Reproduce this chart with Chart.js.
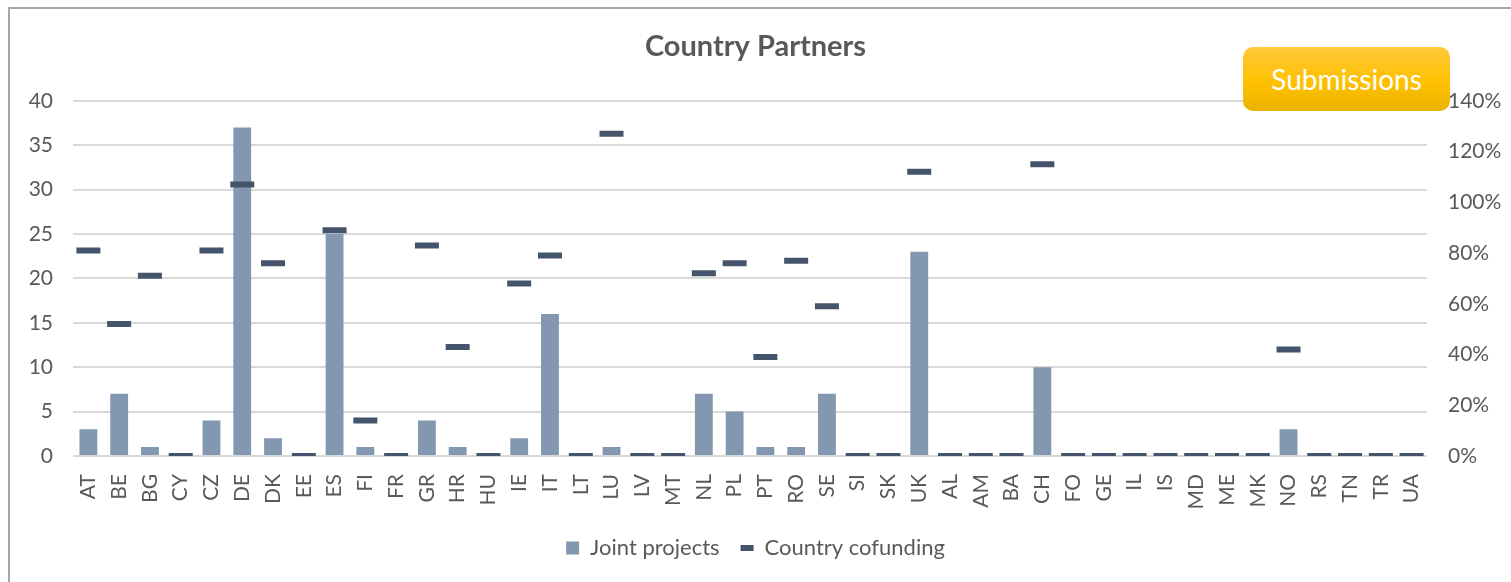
<!DOCTYPE html>
<html lang="en">
<head>
  <meta charset="UTF-8">
  <title>Country Partners</title>
  <script src="https://cdn.jsdelivr.net/npm/chart.js"></script>
  <style>
    body {
      margin: 0;
      background: #fff;
      font-family: Lato, sans-serif;
      overflow: hidden;
    }

    /* grey chart frame, only left and top edges are visible in the shot */
    .frame {
      position: absolute;
      left: 8px;
      top: 7px;
      width: 1600px;
      height: 700px;
      border: 2px solid #a6a6a6;
    }

    .chart-box {
      position: absolute;
      left: 0;
      top: 0;
      width: 1511px;
      height: 582px;
    }

    .badge {
      position: absolute;
      left: 1243px;
      top: 47px;
      width: 207px;
      height: 64px;
      border-radius: 10px;
      background: linear-gradient(#ffc93a, #ffc000 55%, #e9b300);
      color: #fff;
      font-size: 28px;
      line-height: 64px;
      text-align: center;
    }
  </style>
</head>
<body>
<div class="frame"></div>
<div class="chart-box">
  <canvas id="chart"></canvas>
</div>
<div class="badge">Submissions</div>

<script>
  // countries on the x axis
  const countries = [
    "AT", "BE", "BG", "CY", "CZ", "DE", "DK", "EE", "ES", "FI",
    "FR", "GR", "HR", "HU", "IE", "IT", "LT", "LU", "LV", "MT",
    "NL", "PL", "PT", "RO", "SE", "SI", "SK", "UK", "AL", "AM",
    "BA", "CH", "FO", "GE", "IL", "IS", "MD", "ME", "MK", "NO",
    "RS", "TN", "TR", "UA"
  ];

  // number of joint projects (left axis)
  const jointProjects = [
    3, 7, 1, 0, 4, 37, 2, 0, 25, 1,
    0, 4, 1, 0, 2, 16, 0, 1, 0, 0,
    7, 5, 1, 1, 7, 0, 0, 23, 0, 0,
    0, 10, 0, 0, 0, 0, 0, 0, 0, 3,
    0, 0, 0, 0
  ];

  // country cofunding in percent (right axis)
  const cofunding = [
    81, 52, 71, 0, 81, 107, 76, 0, 89, 14,
    0, 83, 43, 0, 68, 79, 0, 127, 0, 0,
    72, 76, 39, 77, 59, 0, 0, 112, 0, 0,
    0, 115, 0, 0, 0, 0, 0, 0, 0, 42,
    0, 0, 0, 0
  ];

  const leftTicks = [0, 40, 5];    // min, max, step
  const rightTicks = [0, 140, 20];

  const grey = "#595959";
  Chart.defaults.font.family = "Lato, sans-serif";
  Chart.defaults.color = grey;

  const ctx = document.getElementById("chart").getContext("2d");
  new Chart(ctx, {
    data: {
      labels: countries,
      datasets: [
        {
          type: "bar",
          label: "Joint projects",
          data: jointProjects,
          backgroundColor: "#8497b0",
          yAxisID: "y",
          categoryPercentage: 1,
          barPercentage: 0.58,
          pointStyle: "rect",
          order: 2
        },
        {
          type: "line",
          label: "Country cofunding",
          data: cofunding,
          yAxisID: "y1",
          showLine: false,
          pointStyle: "line",
          pointRadius: 12,
          pointHoverRadius: 12,
          pointBorderWidth: 6,
          borderWidth: 6,
          borderColor: "#44546a",
          backgroundColor: "#44546a",
          order: 1
        }
      ]
    },
    options: {
      responsive: true,
      maintainAspectRatio: false,
      animation: false,
      events: [],
      layout: { padding: { top: 0, bottom: 13, left: 0, right: 0 } },
      plugins: {
        title: {
          display: true,
          text: "Country Partners",
          color: grey,
          font: { size: 29, weight: "bold" },
          padding: { top: 29, bottom: 37 }
        },
        legend: {
          position: "bottom",
          labels: {
            usePointStyle: true,
            sort: (a, b) => a.datasetIndex - b.datasetIndex,
            font: { size: 22 },
            color: grey,
            padding: 21,
            boxHeight: 13,
            pointStyleWidth: 13
          }
        },
        tooltip: { enabled: false }
      },
      scales: {
        x: {
          grid: { display: false },
          border: { display: false },
          ticks: {
            minRotation: 90,
            maxRotation: 90,
            autoSkip: false,
            font: { size: 21 },
            color: grey,
            padding: 10
          },
          afterFit: s => { s.height = 60; }
        },
        y: {
          position: "left",
          min: leftTicks[0],
          max: leftTicks[1],
          ticks: { stepSize: leftTicks[2], font: { size: 21 }, color: grey, padding: 20 },
          grid: { color: "#d9d9d9", lineWidth: 2, drawTicks: false },
          border: { display: false },
          afterFit: s => { s.width = 73; }
        },
        y1: {
          position: "right",
          min: rightTicks[0],
          max: rightTicks[1],
          ticks: {
            stepSize: rightTicks[2],
            font: { size: 21 },
            color: grey,
            padding: 21,
            callback: v => v + "%"
          },
          grid: { display: false, drawTicks: false },
          border: { display: false },
          afterFit: s => { s.width = 84; }
        }
      }
    }
  });
</script>
</body>
</html>
